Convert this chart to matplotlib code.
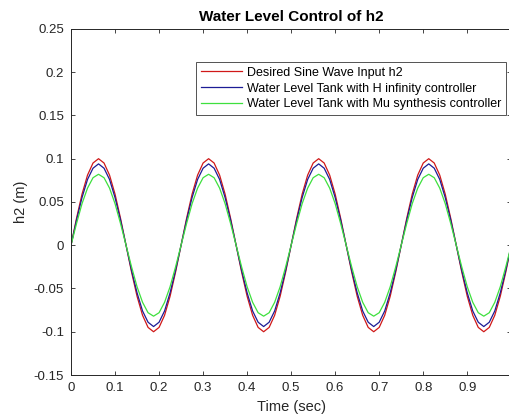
import numpy as np
import matplotlib.pyplot as plt

# sample times (s), 0.0125 s steps over 1 s
time_s = np.linspace(0, 1, 81)

# values, one row per 0.25 s period
desired_h2 = [
    0.000, 0.031, 0.059, 0.081, 0.095, 0.100, 0.095, 0.081, 0.059, 0.031,
    0.000, -0.031, -0.059, -0.081, -0.095, -0.100, -0.095, -0.081, -0.059, -0.031,
    0.000, 0.031, 0.059, 0.081, 0.095, 0.100, 0.095, 0.081, 0.059, 0.031,
    0.000, -0.031, -0.059, -0.081, -0.095, -0.100, -0.095, -0.081, -0.059, -0.031,
    0.000, 0.031, 0.059, 0.081, 0.095, 0.100, 0.095, 0.081, 0.059, 0.031,
    0.000, -0.031, -0.059, -0.081, -0.095, -0.100, -0.095, -0.081, -0.059, -0.031,
    0.000, 0.031, 0.059, 0.081, 0.095, 0.100, 0.095, 0.081, 0.059, 0.031,
    0.000, -0.031, -0.059, -0.081, -0.095, -0.100, -0.095, -0.081, -0.059, -0.031,
    0.000,
]
hinf_h2 = [
    0.000, 0.029, 0.055, 0.076, 0.089, 0.094, 0.089, 0.076, 0.055, 0.029,
    0.000, -0.029, -0.055, -0.076, -0.089, -0.094, -0.089, -0.076, -0.055, -0.029,
    0.000, 0.029, 0.055, 0.076, 0.089, 0.094, 0.089, 0.076, 0.055, 0.029,
    0.000, -0.029, -0.055, -0.076, -0.089, -0.094, -0.089, -0.076, -0.055, -0.029,
    0.000, 0.029, 0.055, 0.076, 0.089, 0.094, 0.089, 0.076, 0.055, 0.029,
    0.000, -0.029, -0.055, -0.076, -0.089, -0.094, -0.089, -0.076, -0.055, -0.029,
    0.000, 0.029, 0.055, 0.076, 0.089, 0.094, 0.089, 0.076, 0.055, 0.029,
    0.000, -0.029, -0.055, -0.076, -0.089, -0.094, -0.089, -0.076, -0.055, -0.029,
    0.000,
]
mu_h2 = [
    0.000, 0.025, 0.048, 0.066, 0.078, 0.082, 0.078, 0.066, 0.048, 0.025,
    0.000, -0.025, -0.048, -0.066, -0.078, -0.082, -0.078, -0.066, -0.048, -0.025,
    0.000, 0.025, 0.048, 0.066, 0.078, 0.082, 0.078, 0.066, 0.048, 0.025,
    0.000, -0.025, -0.048, -0.066, -0.078, -0.082, -0.078, -0.066, -0.048, -0.025,
    0.000, 0.025, 0.048, 0.066, 0.078, 0.082, 0.078, 0.066, 0.048, 0.025,
    0.000, -0.025, -0.048, -0.066, -0.078, -0.082, -0.078, -0.066, -0.048, -0.025,
    0.000, 0.025, 0.048, 0.066, 0.078, 0.082, 0.078, 0.066, 0.048, 0.025,
    0.000, -0.025, -0.048, -0.066, -0.078, -0.082, -0.078, -0.066, -0.048, -0.025,
    0.000,
]

labels = [
    "Desired Sine Wave Input h2",
    "Water Level Tank with H infinity controller",
    "Water Level Tank with Mu synthesis controller",
]
x_ticks = [0, 0.1, 0.2, 0.3, 0.4, 0.5, 0.6, 0.7, 0.8, 0.9, 1]
x_tick_labels = ["0", "0.1", "0.2", "0.3", "0.4", "0.5", "0.6", "0.7", "0.8", "0.9", "1"]
y_ticks = [-0.15, -0.1, -0.05, 0, 0.05, 0.1, 0.15, 0.2, 0.25]
y_tick_labels = ["-0.15", "-0.1", "-0.05", "0", "0.05", "0.1", "0.15", "0.2", "0.25"]

plt.rcParams['font.family'] = ['Liberation Sans', 'DejaVu Sans']

fig = plt.figure(figsize=(5.09, 4.19), dpi=100)
ax = fig.add_axes([0.1395, 0.105, 0.865, 0.826])

ax.plot(time_s, desired_h2, color='#d01818', linewidth=0.9, label=labels[0])
ax.plot(time_s, hinf_h2, color='#1c1c96', linewidth=0.9, label=labels[1])
ax.plot(time_s, mu_h2, color='#3ee03e', linewidth=0.9, label=labels[2])

ax.set_xlim(0, 1)
ax.set_ylim(-0.15, 0.25)
ax.set_xticks(x_ticks)
ax.set_xticklabels(x_tick_labels)
ax.set_yticks(y_ticks)
ax.set_yticklabels(y_tick_labels)
ax.tick_params(direction='in', top=True, right=True, length=3, width=0.6,
               labelsize=9.5, colors='#262626', pad=5)
for sp in ax.spines.values():
    sp.set_linewidth(0.7)
    sp.set_color('#262626')

ax.set_xlabel("Time (sec)", fontsize=10.5, color='#262626', labelpad=4)
ax.set_ylabel("h2 (m)", fontsize=10.5, color='#262626', labelpad=4)
ax.set_title("Water Level Control of h2", fontsize=11, fontweight='bold', pad=6)

leg = ax.legend(loc='upper right', bbox_to_anchor=(0.989, 0.905), fontsize=9,
                frameon=True, fancybox=False, edgecolor='#262626',
                handlelength=3.3, handletextpad=0.4, borderpad=0.4,
                labelspacing=0.3, borderaxespad=0)
leg.get_frame().set_linewidth(0.7)

fig.savefig("out.png", dpi=100)
